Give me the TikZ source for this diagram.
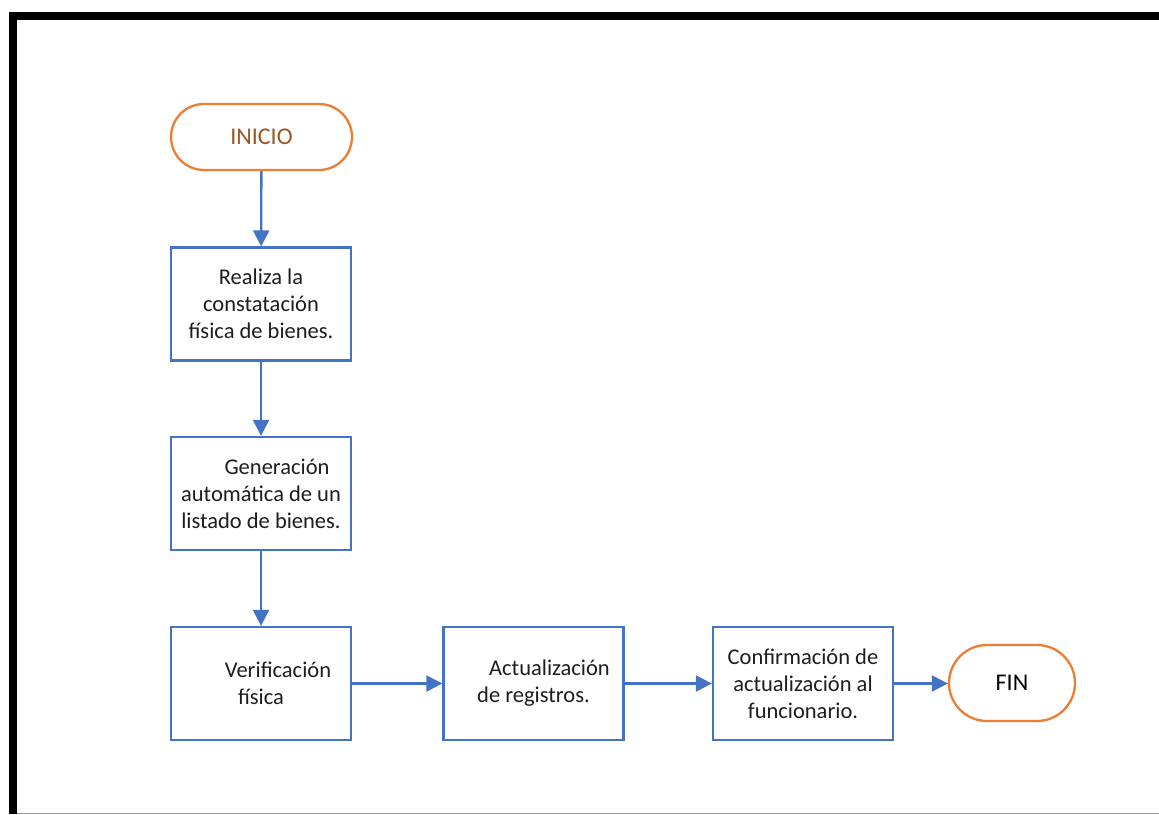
\documentclass[tikz,border=0pt]{standalone}
\usepackage{fontspec}
\setmainfont{Carlito}
\usetikzlibrary{arrows.meta}
\definecolor{flowblue}{HTML}{4472C4}
\definecolor{termorange}{HTML}{ED7D31}
\definecolor{inicbrown}{HTML}{9C5526}
\definecolor{txtgray}{HTML}{1E1E1E}
\begin{document}
\begin{tikzpicture}[x=1pt,y=-1pt,
  procbox/.style={draw=flowblue, line width=2.3pt, fill=white, minimum width=180pt, minimum height=113pt, inner sep=0pt, align=center, text=txtgray, font=\fontsize{22.5}{27}\selectfont},
  termbox/.style={draw=termorange, line width=2.3pt, fill=white, rounded corners=#1, inner sep=0pt, font=\fontsize{24}{27}\selectfont},
  flow/.style={draw=flowblue, line width=2.3pt, -{Triangle[length=16pt,width=16pt]}}
]
\useasboundingbox (0,0) rectangle (1159,814);
% frame
\fill[black] (9,12) rectangle (1159,20);
\fill[black] (9,12) rectangle (17,814);
\draw[line width=1pt, color=black!40] (17,813) -- (1159,813);
% nodes
\node[termbox=33pt, minimum width=181pt, minimum height=66pt, text=inicbrown] (inicio) at (261.5,137) {INICIO};
\node[procbox] (b1) at (261,304) {Realiza la\\constatación\\física de bienes.};
\node[procbox] (b2) at (261,493.5) {\hspace*{32pt}Generación\\automática de un\\listado de bienes.};
\node[procbox] (b3) at (261,683.5) {\hspace*{34pt}Verificación\\física};
\node[procbox] (b4) at (533.5,683.5) {\hspace*{32pt}Actualización\\de registros.};
\node[procbox] (b5) at (803,683.5) {Confirmación de\\actualización al\\funcionario.};
\node[termbox=38pt, minimum width=126pt, minimum height=76pt, text=black] (fin) at (1012,683) {FIN};
% connectors
\draw[flow] (inicio) -- (b1);
\draw[flow] (b1) -- (b2);
\draw[flow] (b2) -- (b3);
\draw[flow] (b3) -- (b4);
\draw[flow] (b4) -- (b5);
\draw[flow] (b5.east) -- (b5.east -| fin.west);
\end{tikzpicture}
\end{document}
